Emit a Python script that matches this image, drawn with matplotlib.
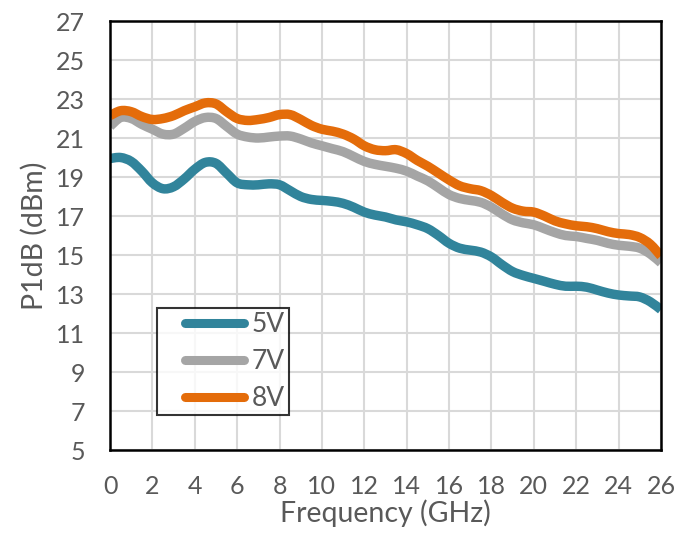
import matplotlib

matplotlib.use("Agg")
import matplotlib.pyplot as plt
import numpy as np
from matplotlib.legend_handler import HandlerLine2D
from matplotlib.lines import Line2D
from matplotlib.patches import PathPatch
from matplotlib.path import Path

plt.rcParams["font.family"] = ["Lato", "DejaVu Sans"]

# Frequency grid (GHz), 0.5 GHz steps
freq_ghz = np.arange(0, 26.01, 0.5)

p1db_5v = [19.95, 20.0, 19.8, 19.3, 18.7, 18.4, 18.5, 18.9, 19.4, 19.75, 19.7,
           19.2, 18.7, 18.6, 18.6, 18.65, 18.6, 18.3, 18.0, 17.85, 17.8, 17.75,
           17.65, 17.45, 17.2, 17.05, 16.95, 16.8, 16.7, 16.55, 16.35, 16.0,
           15.6, 15.35, 15.25, 15.15, 14.9, 14.5, 14.15, 13.95, 13.8, 13.65,
           13.5, 13.4, 13.4, 13.35, 13.2, 13.05, 12.95, 12.9, 12.85, 12.6, 12.2]

p1db_7v = [21.6, 22.05, 22.0, 21.7, 21.45, 21.2, 21.2, 21.5, 21.85, 22.05, 22.0,
           21.6, 21.2, 21.05, 21.0, 21.05, 21.1, 21.1, 20.95, 20.75, 20.6, 20.45,
           20.3, 20.05, 19.8, 19.65, 19.55, 19.45, 19.3, 19.05, 18.8, 18.45,
           18.1, 17.9, 17.8, 17.7, 17.45, 17.1, 16.8, 16.65, 16.55, 16.35,
           16.15, 16.0, 15.95, 15.85, 15.75, 15.6, 15.5, 15.45, 15.35, 15.05, 14.6]

p1db_8v = [22.15, 22.4, 22.35, 22.1, 21.95, 22.0, 22.15, 22.4, 22.6, 22.8, 22.75,
           22.35, 22.0, 21.9, 21.95, 22.05, 22.2, 22.2, 21.95, 21.65, 21.45, 21.35,
           21.2, 20.95, 20.6, 20.4, 20.35, 20.4, 20.2, 19.85, 19.55, 19.2,
           18.85, 18.55, 18.4, 18.3, 18.05, 17.7, 17.4, 17.25, 17.2, 17.0,
           16.75, 16.6, 16.5, 16.45, 16.35, 16.2, 16.1, 16.05, 15.9, 15.55, 14.95]

series = [("5V", p1db_5v, "#31849B"), ("7V", p1db_7v, "#A5A5A5"), ("8V", p1db_8v, "#E46C0A")]

x_ticks = np.arange(0, 27, 2)
y_ticks = np.arange(5, 28, 2)


def smooth_path(xs, ys):
    # Excel-style smoothed line: cubic Bezier through every point
    p = np.column_stack([xs, ys])
    verts = [p[0]]
    codes = [Path.MOVETO]
    n = len(p)
    for i in range(n - 1):
        p0 = p[max(i - 1, 0)]
        p1 = p[i]
        p2 = p[i + 1]
        p3 = p[min(i + 2, n - 1)]
        c1 = p1 + (p2 - p0) / 6.0
        c2 = p2 - (p3 - p1) / 6.0
        verts += [c1, c2, p2]
        codes += [Path.CURVE4] * 3
    return Path(verts, codes)


class InsetLineHandler(HandlerLine2D):
    # legend sample that leaves some space on its left
    def create_artists(self, legend, orig, xdescent, ydescent, width, height,
                       fontsize, trans):
        y = (height - ydescent) / 2
        x0 = -xdescent + 0.29 * width
        x1 = -xdescent + width
        line = Line2D([x0, x1], [y, y], color=orig.get_color(), lw=orig.get_linewidth(),
                      solid_capstyle="round", transform=trans)
        return [line]


fig = plt.figure(figsize=(6.95, 5.36), dpi=100, facecolor="white")
ax = fig.add_axes([0.1583, 0.1604, 0.951 - 0.1583, 0.9608 - 0.1604])

handles = []
for label, vals, color in series:
    patch = PathPatch(smooth_path(freq_ghz, np.array(vals)), facecolor="none",
                      edgecolor=color, lw=6.8, capstyle="butt", joinstyle="round",
                      zorder=3)
    ax.add_patch(patch)
    handles.append(Line2D([], [], color=color, lw=6.5, label=label))

ax.set_xlim(0, 26)
ax.set_ylim(5, 27)
ax.set_xticks(x_ticks)
ax.set_yticks(y_ticks)
ax.grid(True, color="#D9D9D9", lw=1.5)
ax.set_axisbelow(True)
for sp in ax.spines.values():
    sp.set_color("black")
    sp.set_linewidth(1.8)
    sp.set_zorder(4)
ax.tick_params(length=0, labelsize=18, labelcolor="#595959")
ax.tick_params(axis="y", pad=18)
ax.tick_params(axis="x", pad=18)
ax.set_xlabel("Frequency (GHz)", fontsize=20.5, color="#595959", labelpad=1)
ax.set_ylabel("P1dB (dBm)", fontsize=20.5, color="#595959", labelpad=6)

leg = ax.legend(handles=handles, loc="lower left", bbox_to_anchor=(0.0853, 0.0816),
                fontsize=19, frameon=True, fancybox=False, handlelength=3.16,
                handletextpad=0.3, borderpad=0.14, labelspacing=0.46,
                borderaxespad=0, handler_map={Line2D: InsetLineHandler()})
leg.get_frame().set_edgecolor("black")
leg.get_frame().set_linewidth(1.5)
for t in leg.get_texts():
    t.set_color("#595959")

fig.savefig("out.png", dpi=100, facecolor="white")
